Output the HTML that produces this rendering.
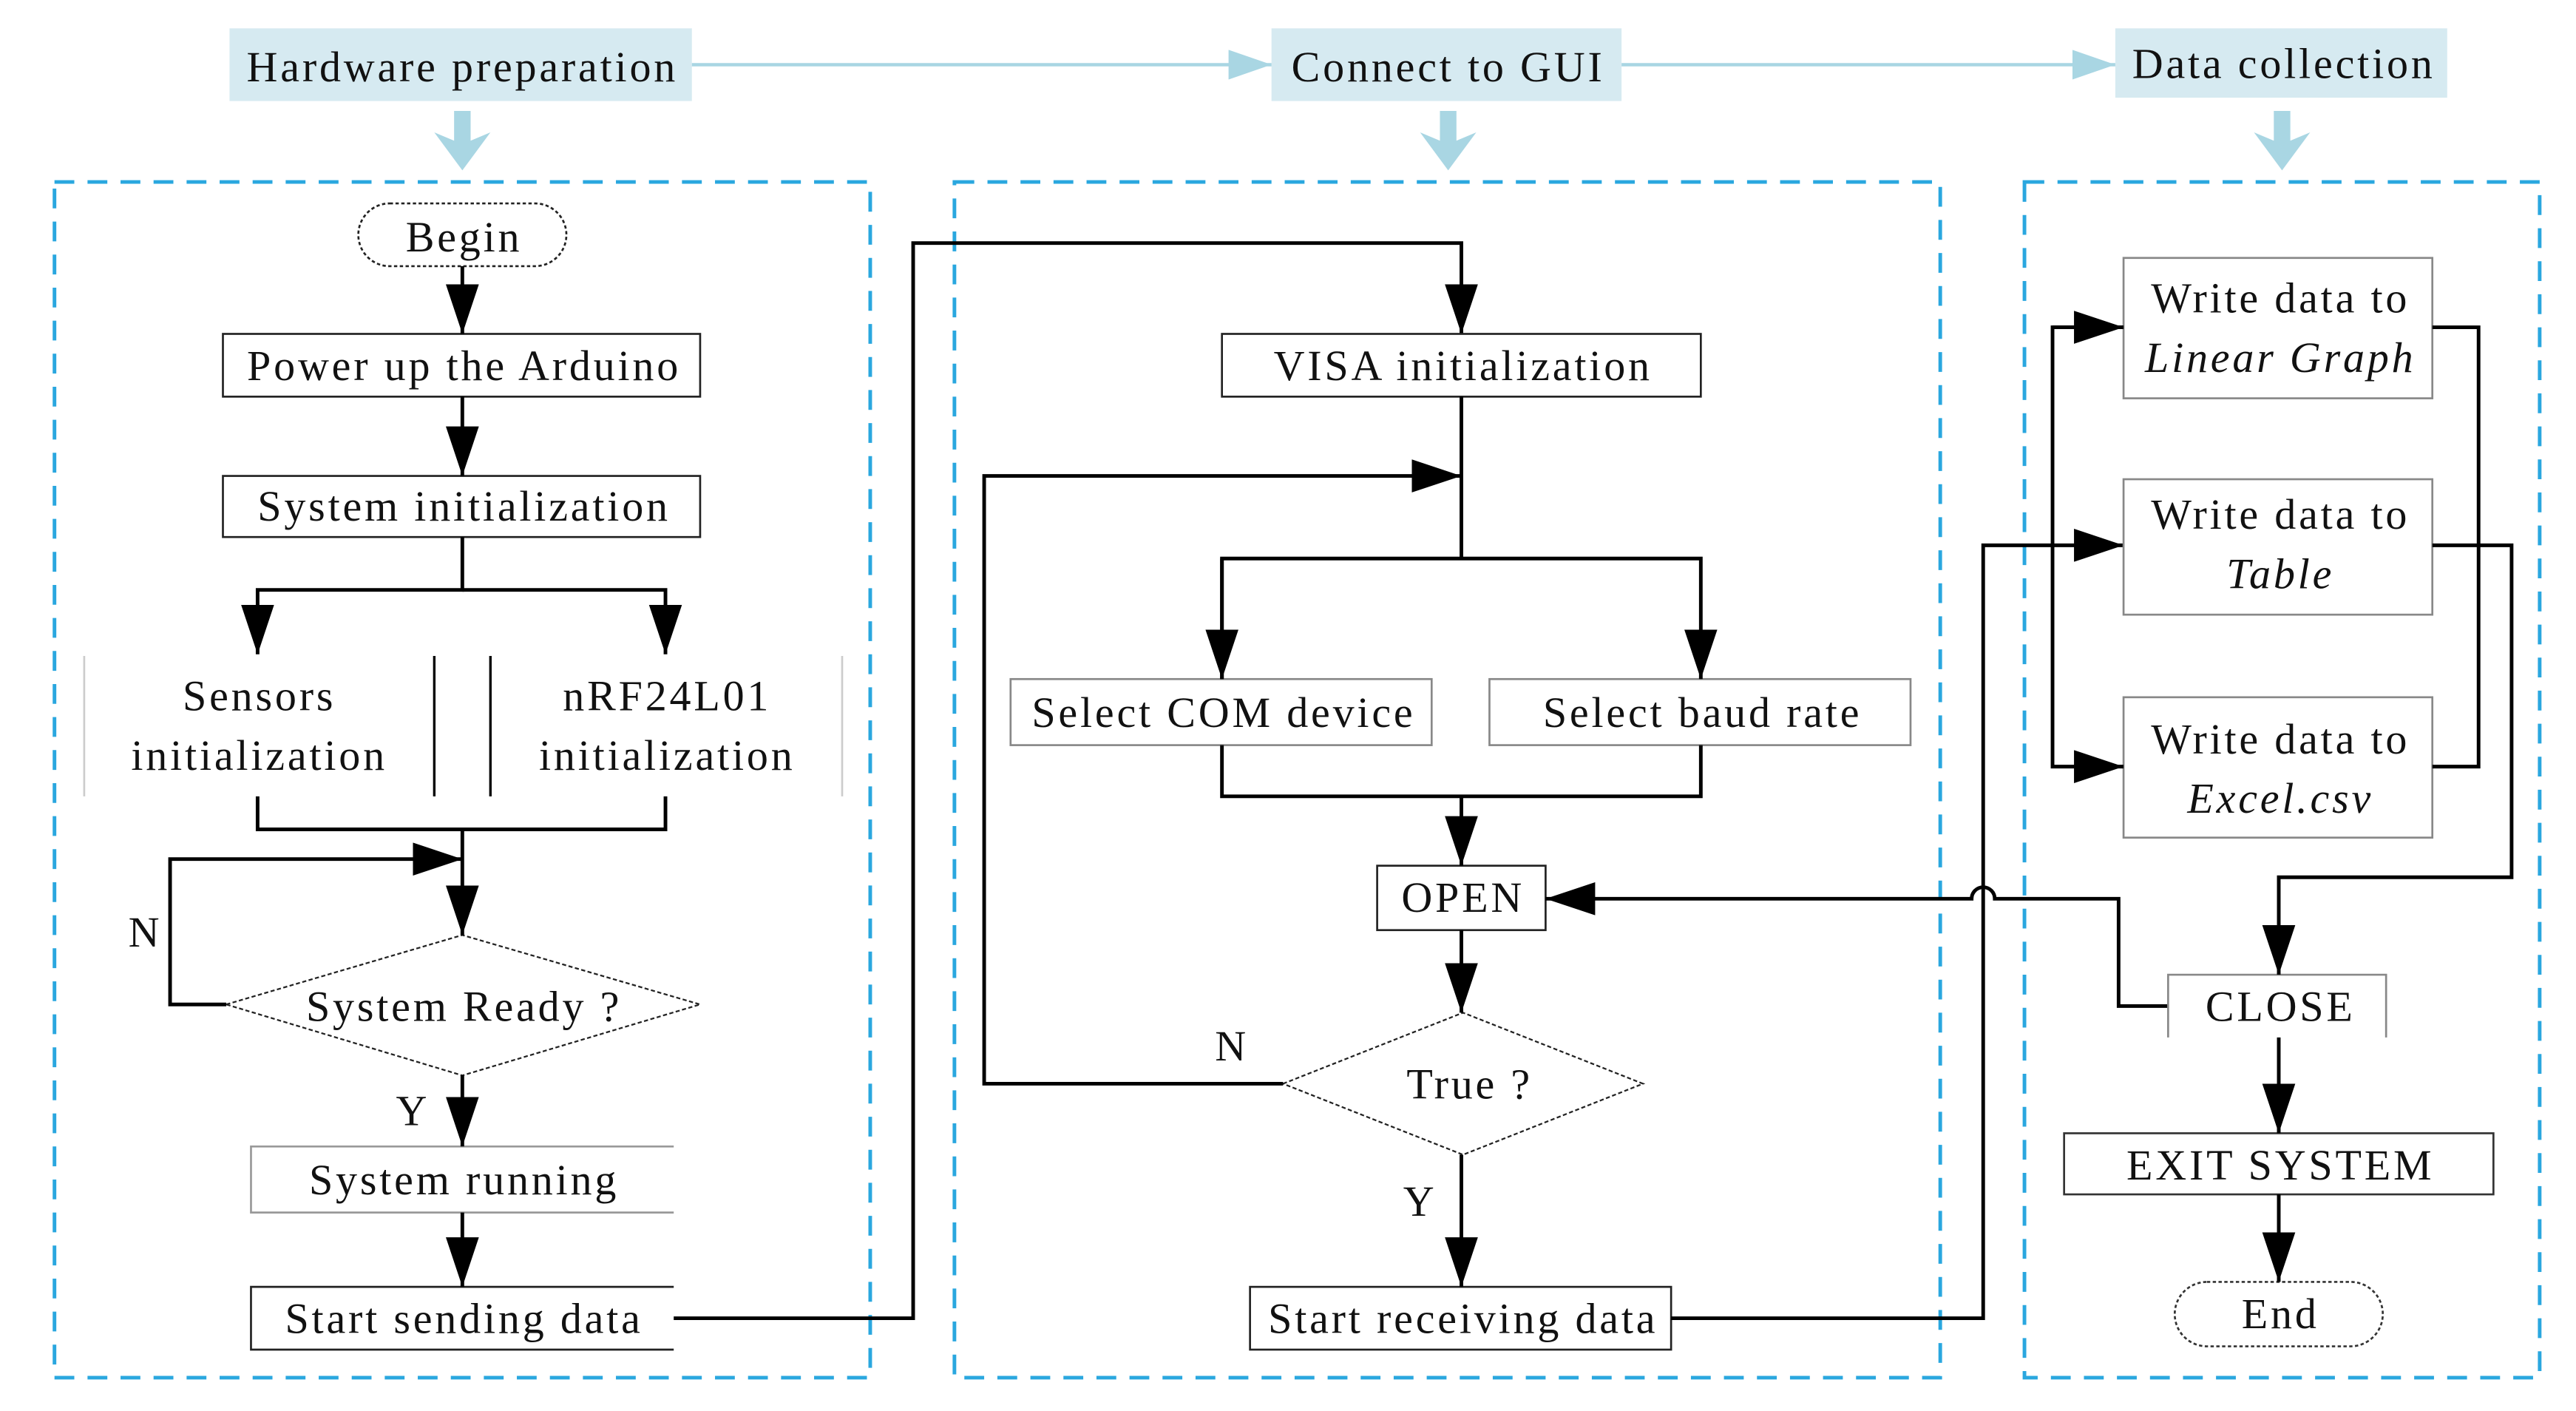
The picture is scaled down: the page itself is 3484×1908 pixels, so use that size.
<!DOCTYPE html>
<html><head><meta charset="utf-8"><style>
html,body{margin:0;padding:0;background:#fff}
svg{display:block}
text{font-family:"Liberation Serif",serif;fill:#111;letter-spacing:1.7px}
</style></head><body>
<svg width="3484" height="1908" viewBox="0 0 1560 854" xmlns="http://www.w3.org/2000/svg">
<defs>
<marker id="A" viewBox="0 0 30 20" refX="30" refY="10" markerWidth="30" markerHeight="20" markerUnits="userSpaceOnUse" orient="auto"><path d="M0,0 L30,10 L0,20 z" fill="#000"/></marker>
<marker id="L" viewBox="0 0 26 18" refX="26" refY="9" markerWidth="26" markerHeight="18" markerUnits="userSpaceOnUse" orient="auto"><path d="M0,0 L26,9 L0,18 z" fill="#a9d6e3"/></marker>
</defs>

<rect x="139" y="17" width="280" height="44" fill="#d6eaf1"/>
<rect x="770" y="17" width="212" height="44" fill="#d6eaf1"/>
<rect x="1281" y="17" width="201" height="42" fill="#d6eaf1"/>
<text x="280" y="49" font-size="26" text-anchor="middle">Hardware preparation</text>
<text x="877" y="49" font-size="26" text-anchor="middle">Connect to GUI</text>
<text x="1383" y="47" font-size="26" text-anchor="middle">Data collection</text>
<g stroke="#a9d6e3" stroke-width="2" fill="none">
<line x1="419" y1="39" x2="770" y2="39" marker-end="url(#L)"/>
<line x1="982" y1="39" x2="1281" y2="39" marker-end="url(#L)"/>
</g>
<g fill="#a9d6e3">
<path d="M275,67 h10 v18 l12,-5 l-17,23 l-17,-23 l12,5 z"/>
<path d="M872,67 h10 v18 l12,-5 l-17,23 l-17,-23 l12,5 z"/>
<path d="M1377,67 h10 v18 l12,-5 l-17,23 l-17,-23 l12,5 z"/>
</g>

<g stroke="#2aa7df" stroke-width="2.2" fill="none" stroke-dasharray="12,8">
<rect x="33" y="110" width="494" height="724"/>
<rect x="578" y="110" width="597" height="724"/>
<rect x="1226" y="110" width="312" height="724"/>
</g>

<g fill="none" stroke="#222" stroke-width="1.2">
<rect x="217" y="123" width="126" height="38" rx="19" stroke-dasharray="2,1.5"/>
<rect x="135" y="202" width="289" height="38"/>
<rect x="135" y="288" width="289" height="37"/>
<path d="M137,608 L280,566 L424,608 L280,651 Z" stroke-dasharray="2.5,1.5" stroke-width="1"/>
<path d="M408,694 H152 V734 H408" stroke="#999"/>
<path d="M408,779 H152 V817 H408" />
</g>
<g stroke="#ccc" stroke-width="1.2"><line x1="51" y1="397" x2="51" y2="482"/><line x1="510" y1="397" x2="510" y2="482"/></g>
<g stroke="#000" stroke-width="1.5"><line x1="263" y1="397" x2="263" y2="482"/><line x1="297" y1="397" x2="297" y2="482"/></g>
<text x="281" y="152" font-size="26" text-anchor="middle">Begin</text>
<text x="281" y="230" font-size="26" text-anchor="middle">Power up the Arduino</text>
<text x="281" y="315" font-size="26" text-anchor="middle">System initialization</text>
<text x="157" y="430" font-size="26" text-anchor="middle">Sensors</text>
<text x="157" y="466" font-size="26" text-anchor="middle">initialization</text>
<text x="404" y="430" font-size="26" text-anchor="middle">nRF24L01</text>
<text x="404" y="466" font-size="26" text-anchor="middle">initialization</text>
<text x="281" y="618" font-size="26" text-anchor="middle">System Ready ?</text>
<text x="281" y="723" font-size="26" text-anchor="middle">System running</text>
<text x="281" y="807" font-size="26" text-anchor="middle">Start sending data</text>
<text x="88" y="573" font-size="26" text-anchor="middle">N</text>
<text x="250" y="681" font-size="26" text-anchor="middle">Y</text>

<g stroke="#000" stroke-width="2.2" fill="none">
<line x1="280" y1="161" x2="280" y2="202" marker-end="url(#A)"/>
<line x1="280" y1="240" x2="280" y2="288" marker-end="url(#A)"/>
<path d="M280,325 V357 H156 V396" marker-end="url(#A)"/>
<path d="M280,357 H403 V396" marker-end="url(#A)"/>
<path d="M156,482 V502 H403 V482"/>
<line x1="280" y1="502" x2="280" y2="566" marker-end="url(#A)"/>
<path d="M137,608 H103 V520 H280" marker-end="url(#A)"/>
<line x1="280" y1="651" x2="280" y2="694" marker-end="url(#A)"/>
<line x1="280" y1="734" x2="280" y2="779" marker-end="url(#A)"/>
<path d="M408,798 H553 V147 H885 V202" marker-end="url(#A)"/>
</g>

<g fill="none" stroke="#222" stroke-width="1.2">
<rect x="740" y="202" width="290" height="38"/>
<rect x="612" y="411" width="255" height="40" stroke="#888"/>
<rect x="902" y="411" width="255" height="40" stroke="#888"/>
<rect x="834" y="524" width="102" height="39"/>
<path d="M777,656 L886,613 L995,656 L886,699 Z" stroke-dasharray="2.5,1.5" stroke-width="1"/>
<rect x="757" y="779" width="255" height="38"/>
</g>
<text x="886" y="230" font-size="26" text-anchor="middle">VISA initialization</text>
<text x="741" y="440" font-size="26" text-anchor="middle">Select COM device</text>
<text x="1031" y="440" font-size="26" text-anchor="middle">Select baud rate</text>
<text x="886" y="552" font-size="26" text-anchor="middle">OPEN</text>
<text x="890" y="665" font-size="26" text-anchor="middle">True ?</text>
<text x="746" y="642" font-size="26" text-anchor="middle">N</text>
<text x="860" y="736" font-size="26" text-anchor="middle">Y</text>
<text x="886" y="807" font-size="26" text-anchor="middle">Start receiving data</text>
<g stroke="#000" stroke-width="2.2" fill="none">
<line x1="885" y1="240" x2="885" y2="338"/>
<path d="M740,411 V338 H1030 V411" marker-end="url(#A)"/>
<line x1="740" y1="338" x2="740" y2="411" marker-end="url(#A)"/>
<path d="M777,656 H596 V288 H885" marker-end="url(#A)"/>
<path d="M740,451 V482 H1030 V451"/>
<line x1="885" y1="482" x2="885" y2="524" marker-end="url(#A)"/>
<line x1="885" y1="563" x2="885" y2="613" marker-end="url(#A)"/>
<line x1="885" y1="699" x2="885" y2="779" marker-end="url(#A)"/>
<path d="M1012,798 H1201 V330 H1286" marker-end="url(#A)"/>
<path d="M1313,609 H1283 V544 H1208 a7,7 0 0 0 -14,0 H936" marker-end="url(#A)"/>
</g>

<g fill="none" stroke="#888" stroke-width="1.2">
<rect x="1286" y="156" width="187" height="85"/>
<rect x="1286" y="290" width="187" height="82"/>
<rect x="1286" y="422" width="187" height="85"/>
<path d="M1313,628 V590 H1445 V628"/>
<rect x="1250" y="686" width="260" height="37" stroke="#333"/>
<rect x="1317" y="776" width="126" height="39" rx="19.5" stroke="#333" stroke-dasharray="2,1.5"/>
</g>
<text x="1381" y="189" font-size="26" text-anchor="middle">Write data to</text>
<text x="1381" y="225" font-size="26" text-anchor="middle" font-style="italic">Linear Graph</text>
<text x="1381" y="320" font-size="26" text-anchor="middle">Write data to</text>
<text x="1381" y="356" font-size="26" text-anchor="middle" font-style="italic">Table</text>
<text x="1381" y="456" font-size="26" text-anchor="middle">Write data to</text>
<text x="1381" y="492" font-size="26" text-anchor="middle" font-style="italic">Excel.csv</text>
<text x="1381" y="618" font-size="26" text-anchor="middle">CLOSE</text>
<text x="1381" y="714" font-size="26" text-anchor="middle">EXIT SYSTEM</text>
<text x="1381" y="804" font-size="26" text-anchor="middle">End</text>
<g stroke="#000" stroke-width="2.2" fill="none">
<path d="M1286,198 H1243 V464 H1286" marker-end="url(#A)"/>
<line x1="1243" y1="198" x2="1286" y2="198" marker-end="url(#A)"/>
<path d="M1473,198 H1501 V464 H1473"/>
<path d="M1473,330 H1521 V531 H1380 V590" marker-end="url(#A)"/>
<line x1="1380" y1="628" x2="1380" y2="686" marker-end="url(#A)"/>
<line x1="1380" y1="723" x2="1380" y2="776" marker-end="url(#A)"/>
</g>
</svg>
</body></html>
